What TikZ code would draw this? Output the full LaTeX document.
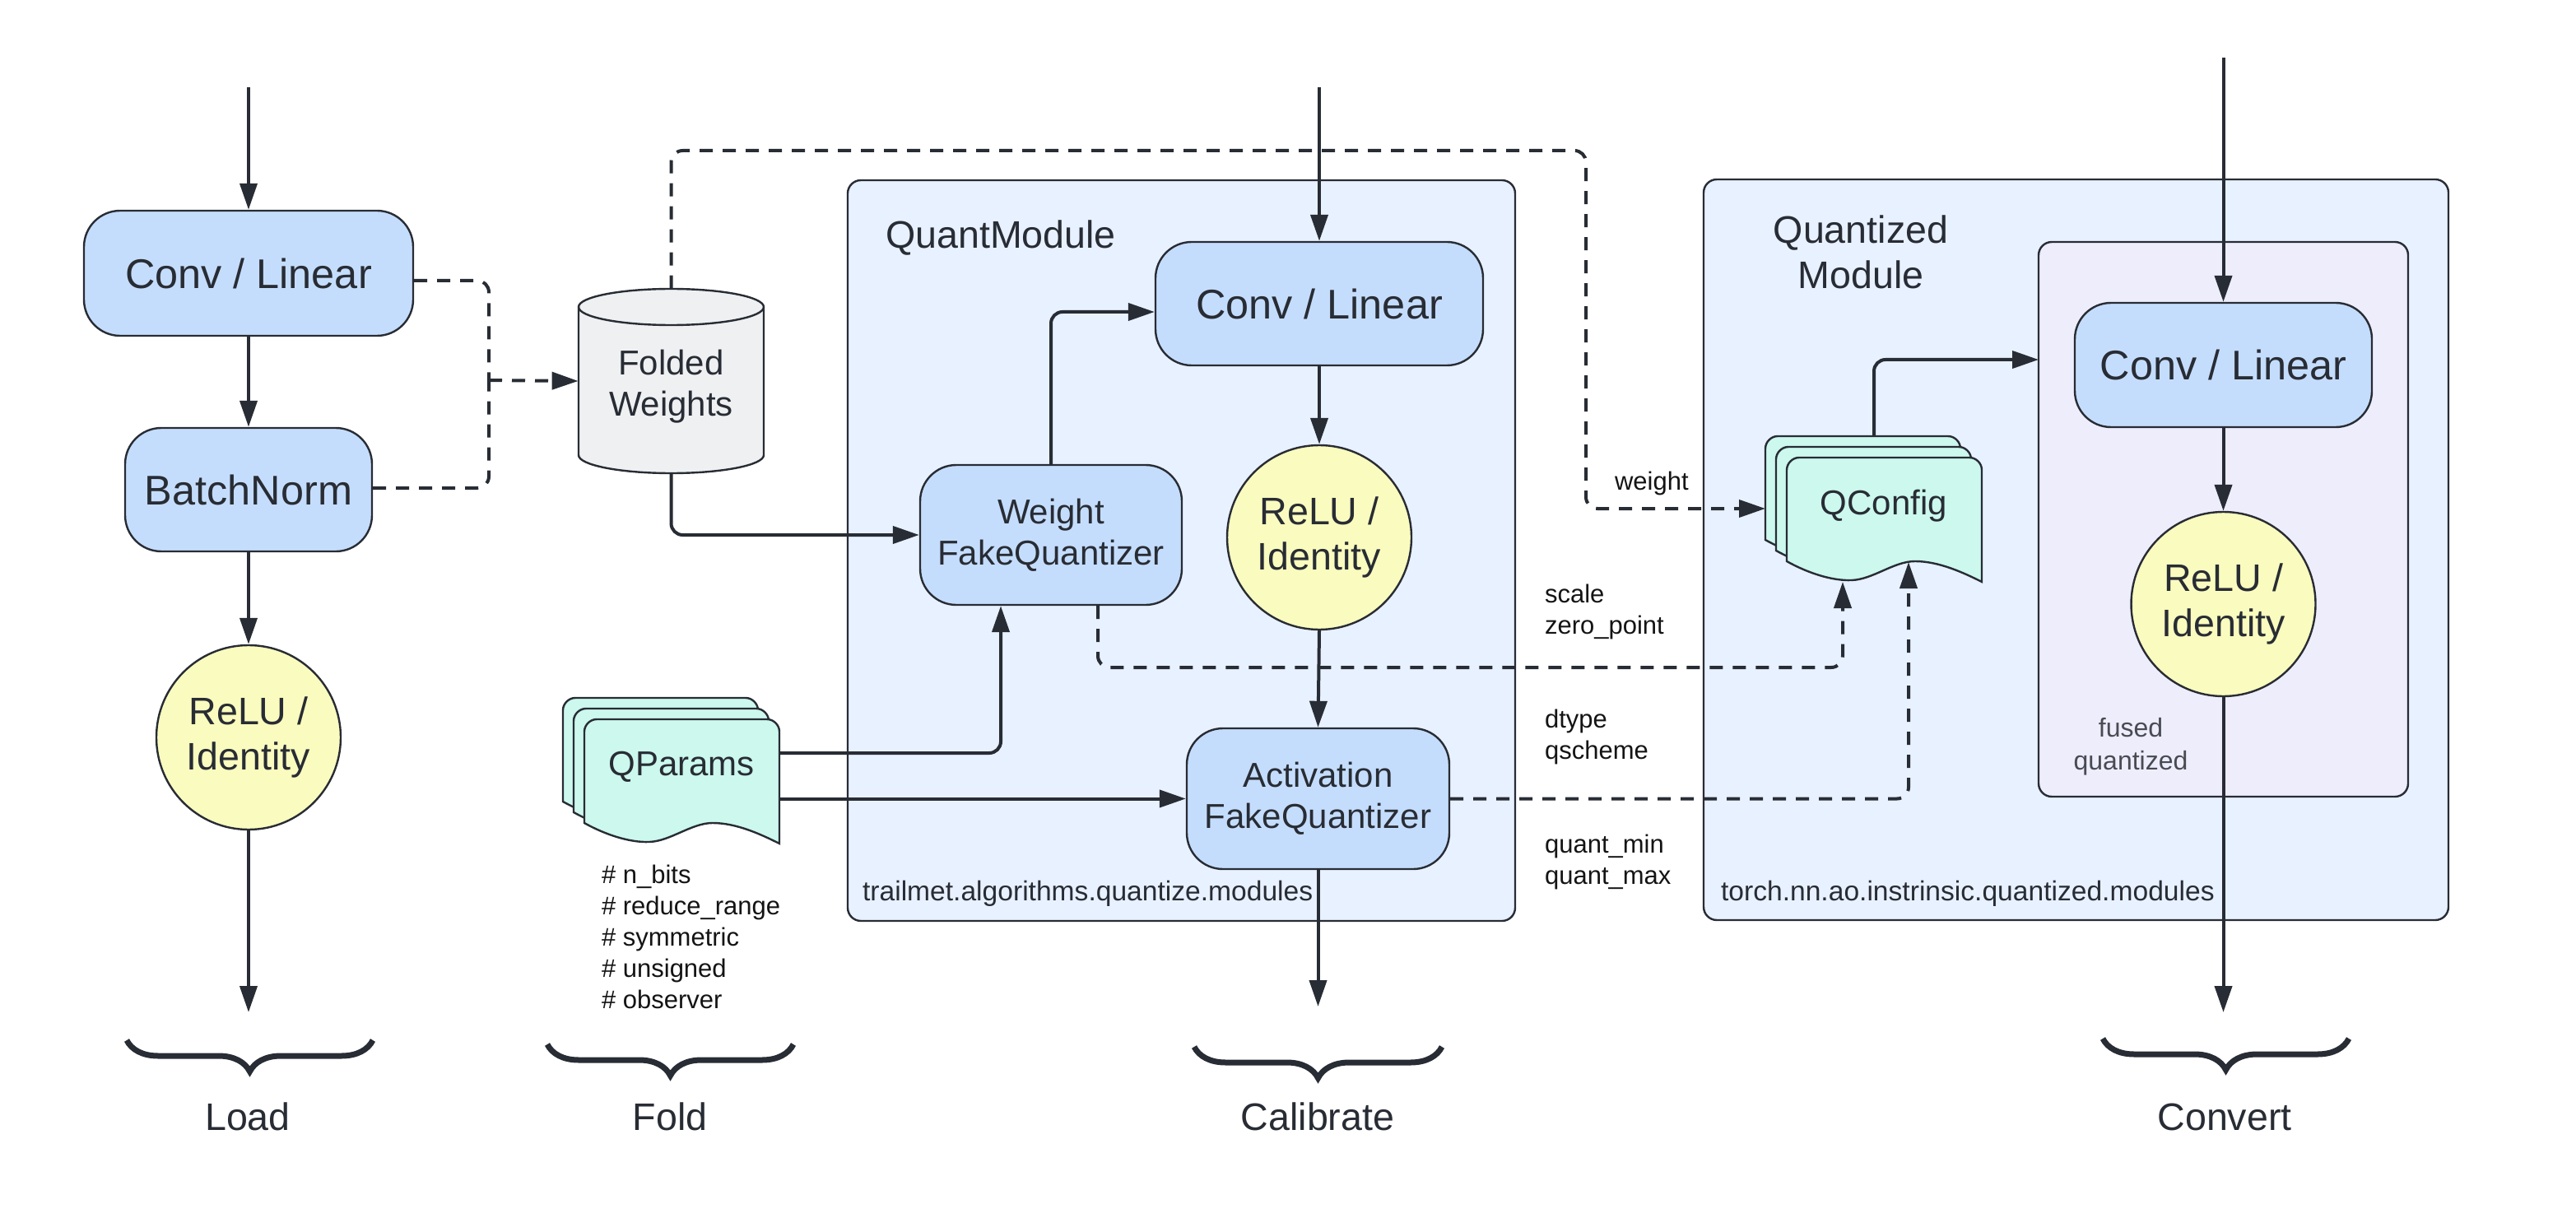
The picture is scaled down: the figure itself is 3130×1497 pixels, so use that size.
\documentclass[tikz,border=0pt]{standalone}
\usepackage{fontspec}
\setmainfont{Liberation Sans}
\usetikzlibrary{arrows.meta,decorations.pathreplacing,calc}
\definecolor{ink}{RGB}{40,44,52}
\definecolor{lab}{RGB}{20,20,20}
\definecolor{blueF}{RGB}{197,221,252}
\definecolor{yellowF}{RGB}{250,251,190}
\definecolor{grayF}{RGB}{239,240,242}
\definecolor{mintF}{RGB}{204,248,238}
\definecolor{contF}{RGB}{232,241,255}
\definecolor{fusedF}{RGB}{238,237,252}
\newcommand{\docpage}[2]{%
  \filldraw[fill=mintF,draw=ink,line width=1.2pt,shift={(#1,#2)}]
    (0,126) -- (0,15) .. controls (0,7) and (7,0) .. (15,0) -- (222,0)
    .. controls (230,0) and (237,7) .. (237,15) -- (237,151)
    .. controls (215,140) and (185,126) .. (156,126)
    .. controls (130,126) and (105,148) .. (79,149)
    .. controls (55,150) and (25,140) .. (0,126) -- cycle;}
\begin{document}
\begin{tikzpicture}[x=0.5pt,y=-0.5pt,
  every node/.style={text=ink},
  fA/.style={font=\fontsize{25.2}{30}\selectfont},
  fB/.style={font=\fontsize{23.3}{27.5}\selectfont},
  fC/.style={font=\fontsize{21}{25}\selectfont},
  fD/.style={font=\fontsize{16.8}{20}\selectfont},
  fE/.style={font=\fontsize{16}{20}\selectfont},
  fF/.style={font=\fontsize{15.5}{19}\selectfont,text=lab},
  bbox/.style={draw=ink,line width=1.2pt,fill=blueF,rounded corners=22pt,align=center,inner sep=0pt},
  rcirc/.style={draw=ink,line width=1.2pt,fill=yellowF,circle,minimum size=112pt,align=center,inner sep=0pt,fB},
  cont/.style={draw=ink,line width=1.2pt,fill=contF,rounded corners=8pt,inner sep=0pt},
  ln/.style={draw=ink,line width=2pt,rounded corners=7pt},
  arr/.style={ln,-{Triangle[length=16pt,width=10.5pt]}},
  dsh/.style={ln,dash pattern=on 8pt off 6pt},
  darr/.style={dsh,-{Triangle[length=16pt,width=10.5pt]}},
  brc/.style={draw=ink,line width=3.5pt,decorate,decoration={brace,mirror,amplitude=19pt}},
  stage/.style={fB}
]
\useasboundingbox (0,0) rectangle (3130,1497);

% containers
\node[cont,minimum width=405.5pt,minimum height=450pt] (qm) at (1435.5,669) {};
\node[cont,minimum width=452.5pt,minimum height=450pt] (qzm) at (2522.5,668) {};
\node[cont,fill=fusedF,minimum width=224.5pt,minimum height=337pt] (fused) at (2701.5,631) {};
\node[fB] (qmlab) at (1216,289) {QuantModule};
\node[fD,anchor=west] (qmpath) at (1041,1086) {trailmet.algorithms.quantize.modules};
\node[fB,align=center] (qzlab) at (2261,306) {Quantized\\[0pt]Module};
\node[fD,anchor=west] (qzpath) at (2084,1086) {torch.nn.ao.instrinsic.quantized.modules};
\node[fE,align=center,text=ink!85] (fusedlab) at (2589,907) {fused\\quantized};

% cylinder
\filldraw[fill=grayF,draw=ink,line width=1.2pt]
  (703,373) -- (703,553)
  .. controls (703,565.1) and (753.4,575) .. (815.5,575)
  .. controls (877.6,575) and (928,565.1) .. (928,553)
  -- (928,373)
  .. controls (928,360.85) and (877.6,351) .. (815.5,351)
  .. controls (753.4,351) and (703,360.85) .. (703,373) -- cycle;
\draw[ink,line width=1.2pt] (703,373) .. controls (703,385.15) and (753.4,395) .. (815.5,395)
  .. controls (877.6,395) and (928,385.15) .. (928,373);
\node[inner sep=0pt,minimum width=112.5pt,minimum height=112pt] (fw) at (815.5,463) {};
\node[fC,align=center] (fwt) at (815.5,470) {Folded\\Weights};

% document stacks
\docpage{684}{848}\docpage{697}{861}\docpage{710}{874}
\node[inner sep=0pt,minimum width=118.5pt,minimum height=75.5pt] (qp) at (828.5,949.5) {};
\node[fC] (qpt) at (828,932) {QParams};
\docpage{2145}{530}\docpage{2158}{543}\docpage{2171}{556}
\node[fC] (qc) at (2289,615) {QConfig};
\coordinate (qcw) at (2145,618);
\coordinate (qctop) at (2277,530);
\coordinate (qcin1) at (2239,707);
\coordinate (qcin2) at (2319,683);

% left column
\node[bbox,fA,minimum width=200pt,minimum height=76pt] (conv1) at (302,332) {Conv / Linear};
\node[bbox,fA,minimum width=150pt,minimum height=75pt] (bn) at (302,595) {BatchNorm};
\node[rcirc] (relu1) at (302,896) {ReLU /\\Identity};

% quant module
\node[bbox,fA,minimum width=199pt,minimum height=75pt] (conv2) at (1603,369) {Conv / Linear};
\node[rcirc] (relu2) at (1603,653) {ReLU /\\Identity};
\node[bbox,fC,minimum width=159.5pt,minimum height=85.5pt] (afq) at (1601.5,970.5) {Activation\\FakeQuantizer};
\node[bbox,fC,minimum width=159pt,minimum height=85pt] (wfq) at (1277,650) {Weight\\FakeQuantizer};

% quantized module
\node[bbox,fA,minimum width=180.5pt,minimum height=75.5pt] (conv3) at (2701.5,443.5) {Conv / Linear};
\node[rcirc] (relu3) at (2701.5,734) {ReLU /\\Identity};

% free coordinates
\coordinate (in1) at (302,106);
\coordinate (in2) at (1603,106);
\coordinate (in3) at (2701.5,70);
\coordinate (out1) at (302,1230);
\coordinate (out2) at (1601.5,1223);
\coordinate (out3) at (2701.5,1230);
\coordinate (jn) at (594,462);
\coordinate (wtop) at (1927,183);
\coordinate (d1) at (2239,811);
\coordinate (c3in) at (2477,437);

% solid connectors
\draw[arr] (in1) -- (conv1.north);
\draw[arr] (conv1.south) -- (bn.north);
\draw[arr] (bn.south) -- (relu1.north);
\draw[arr] (relu1.south) -- (out1);
\draw[arr] (in2) -- (conv2.north);
\draw[arr] (conv2.south) -- (relu2.north);
\draw[arr] (relu2.south) -- (afq.north);
\draw[arr] (afq.south) -- (out2);
\draw[arr] (in3) -- (conv3.north);
\draw[arr] (conv3.south) -- (relu3.north);
\draw[arr] (relu3.south) -- (out3);
\draw[arr] (fw.south) |- (wfq.west);
\draw[arr] (wfq.north) |- ([yshift=-5pt]conv2.west);
\draw[arr] ([yshift=17.25pt]qp.east) -| ([xshift=-30.5pt]wfq.south);
\draw[arr] ([yshift=-10.5pt]qp.east) -- (afq.west);
\draw[arr] (qctop) |- (c3in);

% dashed connectors
\draw[dsh] ([yshift=-4.5pt]conv1.east) -| (jn);
\draw[dsh] ([yshift=1pt]bn.east) -| (jn);
\draw[darr] (jn) -- (fw.west);
\draw[darr] (fw.north) |- (wtop) |- (qcw);
\draw[darr] ([xshift=28.5pt]wfq.south) |- (d1) -- (qcin1);
\draw[darr] (afq.east) -| (qcin2);

% labels
\node[fF,anchor=west] (lw) at (1955,587) {weight};
\node[fF,anchor=west,align=left] (l1) at (1870,743) {scale\\zero\_point};
\node[fF,anchor=west,align=left] (l2) at (1870,895.5) {dtype\\qscheme};
\node[fF,anchor=west,align=left] (l3) at (1870,1047.5) {quant\_min\\quant\_max};
\node[fF,anchor=west,align=left] (lq) at (724,1138)
  {\# n\_bits\\\# reduce\_range\\\# symmetric\\\# unsigned\\\# observer};

% braces
\draw[brc] (154,1264) -- (453,1264);
\draw[brc] (665,1269) -- (964,1269);
\draw[brc] (1451,1272) -- (1752,1272);
\draw[brc] (2555,1262) -- (2854,1262);
\node[stage] (sLoad) at (301,1357) {Load};
\node[stage] (sFold) at (814,1357) {Fold};
\node[stage] (sCal) at (1601,1357) {Calibrate};
\node[stage] (sConv) at (2703,1357) {Convert};
\end{tikzpicture}
\end{document}
